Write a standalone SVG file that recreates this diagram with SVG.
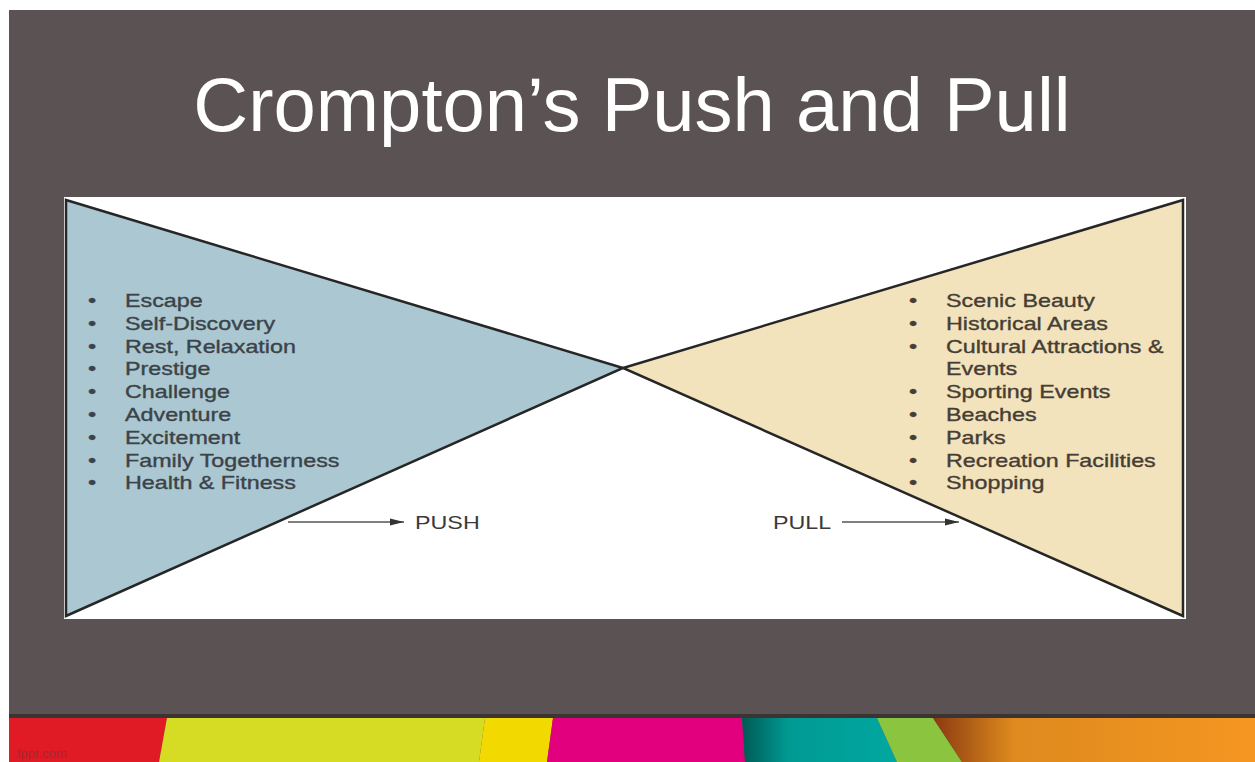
<svg xmlns="http://www.w3.org/2000/svg" width="1255" height="762" viewBox="0 0 1255 762">
<style>
.title{font-family:"Liberation Sans",Arial,sans-serif;font-size:76px;fill:#ffffff}
.item{font-family:"Liberation Sans",Arial,sans-serif;font-size:18px;stroke-width:0.35}
.lt{fill:#3b4348;stroke:#3b4348}
.rt{fill:#453e34;stroke:#453e34}
.bul{text-anchor:middle}
.lbl{font-family:"Liberation Sans",Arial,sans-serif;font-size:18px;fill:#3a3a3a}
.tri{stroke:#262626;stroke-width:2.5;stroke-linejoin:miter}
.arr{stroke:#555555;stroke-width:1.6;fill:none}
</style>
<defs>
<marker id="head" markerUnits="userSpaceOnUse" markerWidth="16" markerHeight="10" refX="14" refY="5" orient="auto">
<path d="M0,1.5 L14,5 L0,8.5 Z" fill="#333333"/>
</marker>
<linearGradient id="shO" x1="0" y1="0" x2="1" y2="0">
<stop offset="0" stop-color="#8a3a10"/>
<stop offset="0.25" stop-color="#de8a1e"/>
<stop offset="1" stop-color="#f59621"/>
</linearGradient>
<linearGradient id="shT" x1="0" y1="0" x2="1" y2="0">
<stop offset="0" stop-color="#005a55"/>
<stop offset="0.3" stop-color="#009a93"/>
<stop offset="1" stop-color="#00a8a0"/>
</linearGradient>
</defs>
<rect x="0" y="0" width="1255" height="762" fill="#ffffff"/>
<rect x="9" y="10" width="1246" height="752" fill="#5b5254"/>
<g id="footer-strip">
<rect x="9" y="714" width="1246" height="4" fill="#3b3432"/>
<polygon points="9,718 167,718 159,762 9,762" fill="#e01b26"/>
<polygon points="167,718 485,718 479,762 159,762" fill="#d5dc23"/>
<polygon points="485,718 553,718 547,762 479,762" fill="#f2da00"/>
<polygon points="553,718 742,718 745,762 547,762" fill="#e2007f"/>
<polygon points="742,718 877,718 897,762 745,762" fill="url(#shT)"/>
<polygon points="877,718 933,718 962,762 897,762" fill="#8bc540"/>
<polygon points="933,718 1255,718 1255,762 962,762" fill="url(#shO)"/>
<text x="17" y="758" font-family="Liberation Sans, Arial, sans-serif" font-size="13" fill="#9a2a32" opacity="0.85">fppt.com</text>
</g>
<text id="title" class="title" x="632" y="131" text-anchor="middle">Crompton’s Push and Pull</text>
<rect id="panel" x="64" y="197" width="1122" height="422" fill="#ffffff"/>
<g id="push-triangle">
<polygon class="tri" points="66,200 66,616 623,368" fill="#abc7d1"/>
<g transform="translate(125 0) scale(1.295 1)" class="item lt">
<text class="bul" x="-25.5" y="307">•</text><text x="0" y="307">Escape</text>
<text class="bul" x="-25.5" y="329.8">•</text><text x="0" y="329.8">Self-Discovery</text>
<text class="bul" x="-25.5" y="352.6">•</text><text x="0" y="352.6">Rest, Relaxation</text>
<text class="bul" x="-25.5" y="375.4">•</text><text x="0" y="375.4">Prestige</text>
<text class="bul" x="-25.5" y="398.2">•</text><text x="0" y="398.2">Challenge</text>
<text class="bul" x="-25.5" y="421">•</text><text x="0" y="421">Adventure</text>
<text class="bul" x="-25.5" y="443.8">•</text><text x="0" y="443.8">Excitement</text>
<text class="bul" x="-25.5" y="466.6">•</text><text x="0" y="466.6">Family Togetherness</text>
<text class="bul" x="-25.5" y="489.4">•</text><text x="0" y="489.4">Health &amp; Fitness</text>
</g>
</g>
<g id="pull-triangle">
<polygon class="tri" points="1183,200 1183,616 623,368" fill="#f3e3bd"/>
<g transform="translate(946 0) scale(1.295 1)" class="item rt">
<text class="bul" x="-25.5" y="307">•</text><text x="0" y="307">Scenic Beauty</text>
<text class="bul" x="-25.5" y="329.8">•</text><text x="0" y="329.8">Historical Areas</text>
<text class="bul" x="-25.5" y="352.6">•</text><text x="0" y="352.6">Cultural Attractions &amp;</text>
<text x="0" y="375.4">Events</text>
<text class="bul" x="-25.5" y="398.2">•</text><text x="0" y="398.2">Sporting Events</text>
<text class="bul" x="-25.5" y="421">•</text><text x="0" y="421">Beaches</text>
<text class="bul" x="-25.5" y="443.8">•</text><text x="0" y="443.8">Parks</text>
<text class="bul" x="-25.5" y="466.6">•</text><text x="0" y="466.6">Recreation Facilities</text>
<text class="bul" x="-25.5" y="489.4">•</text><text x="0" y="489.4">Shopping</text>
</g>
</g>
<g id="connectors">
<line class="arr" x1="288" y1="522" x2="404" y2="522" marker-end="url(#head)"/>
<line class="arr" x1="842" y1="522" x2="959" y2="522" marker-end="url(#head)"/>
</g>
<g id="push-label" transform="translate(415 0) scale(1.295 1)">
<text class="lbl" x="0" y="529">PUSH</text>
</g>
<g id="pull-label" transform="translate(773 0) scale(1.295 1)">
<text class="lbl" x="0" y="529">PULL</text>
</g>
</svg>
